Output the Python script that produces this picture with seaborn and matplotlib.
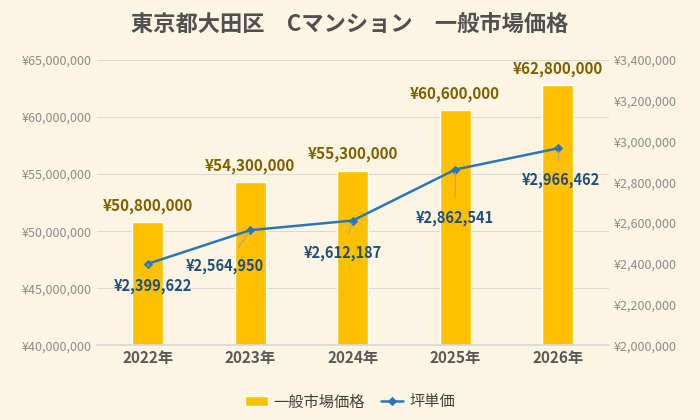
import matplotlib
matplotlib.use("Agg")
import matplotlib.pyplot as plt
import seaborn as sns
import pandas as pd

years = ["2022年", "2023年", "2024年", "2025年", "2026年"]
market_price = [50800000, 54300000, 55300000, 60600000, 62800000]
tsubo_price = [2399622, 2564950, 2612187, 2862541, 2966462]
# label offsets in pixels (dx, dy) for the line labels
line_label_offsets = [(5, -22), (-25, -36), (-10, -32), (0, -48), (3, -32)]

sns.set_theme(style="white")
plt.rcParams["font.family"] = ["Noto Sans CJK JP", "DejaVu Sans"]

bg = "#FDF5E4"
bar_color = "#FFC000"
line_color = "#2E75B6"

fig, ax = plt.subplots(figsize=(7, 4.2), dpi=100)
fig.patch.set_facecolor(bg)
ax.set_facecolor(bg)

df = pd.DataFrame({"year": years, "price": market_price, "tsubo": tsubo_price})
sns.barplot(data=df, x="year", y="price", color=bar_color, width=0.3, ax=ax,
            saturation=1, label="一般市場価格", zorder=2)
ax.set_ylim(40000000, 65000000)
ax.set_yticks(range(40000000, 65000001, 5000000))
ax.set_yticklabels([f"¥{v:,}" for v in range(40000000, 65000001, 5000000)],
                   color="#8C8C8C", fontsize=9)
ax.grid(axis="y", color="#D9D9D9", linewidth=0.8, zorder=0)
ax.set_axisbelow(True)
ax.set_xlabel("")
ax.set_ylabel("")
ax.tick_params(axis="x", labelsize=11, colors="#595959", length=0)
for t in ax.get_xticklabels():
    t.set_fontweight("bold")
for s in ax.spines.values():
    s.set_visible(False)
ax.spines["bottom"].set_visible(True)
ax.spines["bottom"].set_color("#D9D9D9")

for i, v in enumerate(market_price):
    ax.annotate(f"¥{v:,}", (i, v), xytext=(0, 6), textcoords="offset points",
                ha="center", va="bottom", fontsize=11, fontweight="bold",
                color="#7F6000")

ax2 = ax.twinx()
df["x"] = range(len(years))
sns.lineplot(data=df, x="x", y="tsubo", color=line_color, marker="D",
             markersize=4, linewidth=1.8, markeredgecolor=line_color, ax=ax2,
             label="坪単価")
ax2.set_ylim(2000000, 3400000)
ax2.set_yticks(range(2000000, 3400001, 200000))
ax2.set_yticklabels([f"¥{v:,}" for v in range(2000000, 3400001, 200000)],
                    color="#8C8C8C", fontsize=9)
ax2.set_ylabel("")
ax2.set_xlabel("")
ax2.tick_params(length=0)
for s in ax2.spines.values():
    s.set_visible(False)
ax.tick_params(axis="y", length=0)
ax.set_xlim(-0.5, len(years) - 0.5)
ax2.set_xlim(-0.5, len(years) - 0.5)

for i, v in enumerate(tsubo_price):
    dx, dy = line_label_offsets[i]
    ax2.annotate(f"¥{v:,}", (i, v), xytext=(dx * 0.72, dy * 0.72),
                 textcoords="offset points", ha="center", va="center",
                 fontsize=10.5, fontweight="bold", color="#1F4E79",
                 arrowprops=dict(arrowstyle="-", color="#A6A6A6", lw=0.8,
                                 shrinkA=6, shrinkB=2))

if ax2.get_legend():
    ax2.get_legend().remove()
h1, l1 = ax.get_legend_handles_labels()
h2, l2 = ax2.get_legend_handles_labels()
fig.legend(h1 + h2, l1 + l2, loc="lower center", ncol=2, frameon=False,
           fontsize=11, bbox_to_anchor=(0.5, -0.01), handlelength=1.5,
           labelcolor="#404040", columnspacing=1.0, handletextpad=0.4)
if ax.get_legend():
    ax.get_legend().remove()

fig.suptitle("東京都大田区　Cマンション　一般市場価格", fontsize=16,
             fontweight="bold", color="#505050", y=0.97)
fig.subplots_adjust(left=0.138, right=0.87, top=0.857, bottom=0.178)
fig.savefig("out.png", dpi=100, facecolor=bg)
